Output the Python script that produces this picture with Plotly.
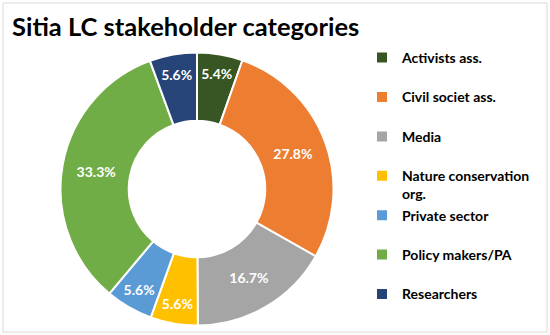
import plotly.graph_objects as go

categories = ["Activists ass.", "Civil societ ass.", "Media", "Nature conservation<br>org.",
              "Private sector", "Policy makers/PA", "Researchers"]
values = [5.4, 27.8, 16.7, 5.6, 5.6, 33.3, 5.6]
colors = ["#375623", "#ED7D31", "#A5A5A5", "#FFC000", "#5B9BD5", "#70AD47", "#264478"]

legend_labels = [c if "<br>" in c else c + "<br> " for c in categories]

W, H = 550, 335
cx, cy, r = 197, 189, 136.5

fig = go.Figure(go.Pie(
    labels=legend_labels,
    values=values,
    sort=False,
    direction="clockwise",
    rotation=0,
    hole=0.5,
    marker=dict(colors=colors, line=dict(color="white", width=2)),
    texttemplate="%{value:.1f}%",
    textposition="inside",
    insidetextorientation="horizontal",
    textfont=dict(family="Lato", size=14, color="white", weight="bold"),
    domain=dict(x=[(cx - r) / W, (cx + r) / W], y=[(H - cy - r) / H, (H - cy + r) / H]),
))

fig.update_layout(
    width=W, height=H,
    margin=dict(l=0, r=0, t=0, b=0, autoexpand=False),
    paper_bgcolor="white",
    font=dict(family="Lato", color="#000000"),
    uniformtext=dict(minsize=14, mode="show"),
    title=dict(text="<b>Sitia LC stakeholder categories</b>", x=12 / W, xanchor="left",
               y=1 - 27 / H, yanchor="middle", font=dict(family="Lato", size=25.5, color="#000000")),
    legend=dict(x=362 / W, xanchor="left", y=1 - 42 / H, yanchor="top", valign="top",
                font=dict(family="Lato", size=14, color="#000000", weight="bold"),
                bgcolor="rgba(0,0,0,0)"),
    shapes=[dict(type="rect", xref="paper", yref="paper", x0=3 / W, x1=547 / W, y0=3 / H, y1=1 - 3 / H,
                 line=dict(color="#D9D9D9", width=1))],
)

fig.write_html("out.html", config={"displayModeBar": False},
               post_script="document.body.style.margin='0';document.body.style.overflow='hidden';")
